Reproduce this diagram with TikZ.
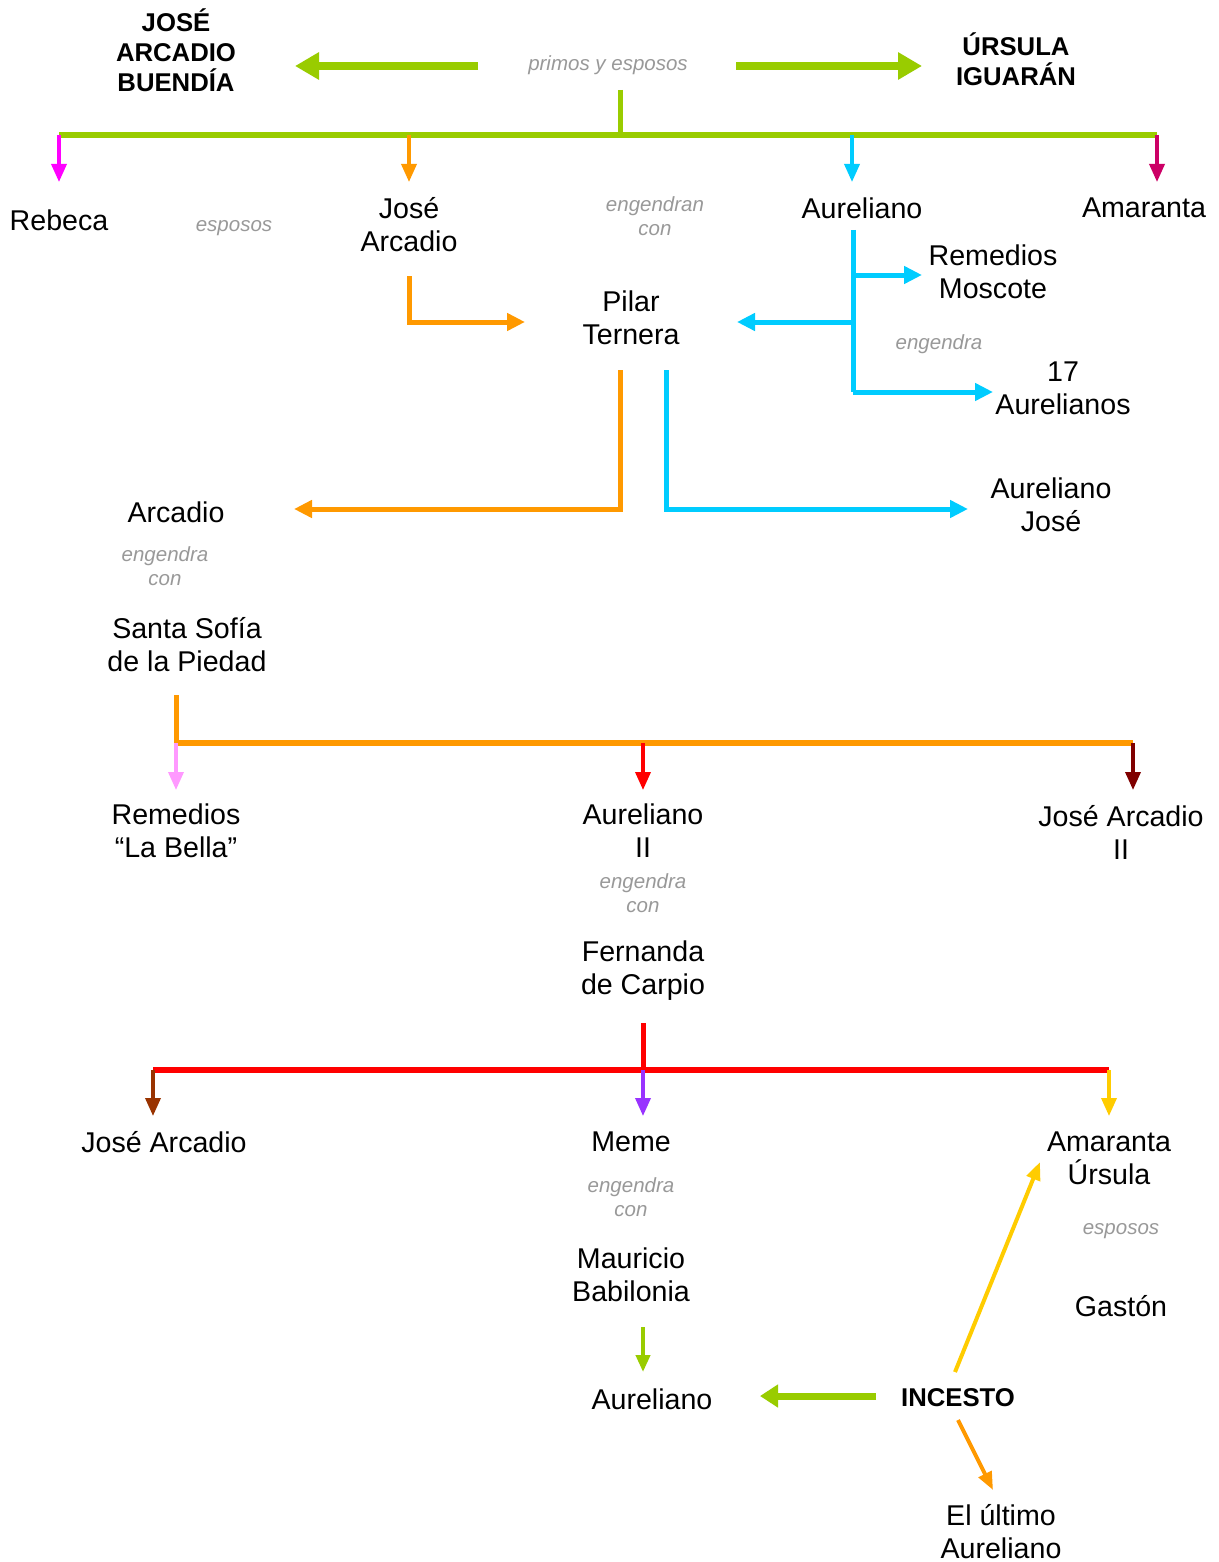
\documentclass[tikz,border=0pt]{standalone}
\usepackage{fontspec}
\setmainfont{Liberation Sans}
\usetikzlibrary{arrows.meta}
\definecolor{cgreen}{HTML}{99CC00}
\definecolor{corange}{HTML}{FF9900}
\definecolor{ccyan}{HTML}{00CCFF}
\definecolor{cmag}{HTML}{FF00FF}
\definecolor{camar}{HTML}{CC0066}
\definecolor{cpink}{HTML}{FF99FF}
\definecolor{cred}{HTML}{FF0000}
\definecolor{cdred}{HTML}{800000}
\definecolor{cbrown}{HTML}{993300}
\definecolor{cpurple}{HTML}{9933FF}
\definecolor{cyellow}{HTML}{FFCC00}
\definecolor{relgray}{HTML}{999999}
\begin{document}
\begin{tikzpicture}[x=1pt,y=-1pt,
  person/.style={align=center, font=\fontsize{28.6}{33}\selectfont, inner sep=0pt},
  rel/.style={align=center, font=\fontsize{20.5}{24}\selectfont\itshape, text=relgray, inner sep=0pt},
  titlebox/.style={align=center, font=\fontsize{25.7}{30}\selectfont\bfseries, inner sep=0pt},
  bus/.style={line width=6pt},
  stem/.style={line width=5pt},
  drop/.style={line width=3.5pt, -{Triangle[length=18pt,width=15pt]}},
  conn/.style={line width=5pt, -{Triangle[length=18pt,width=17pt]}},
  bigarrow/.style={line width=8pt, cgreen, -{Triangle[length=24pt,width=26pt]}},
  slim/.style={line width=4pt, -{Triangle[length=18pt,width=14pt]}}]
\useasboundingbox[fill=white] (0,0) rectangle (1218,1562);

% ---- titles
\node[titlebox] (jab) at (176,50) {JOSÉ\\ARCADIO\\BUENDÍA};
\node[titlebox] (ui) at (1016,59) {ÚRSULA\\IGUARÁN};
\node[rel] (primos) at (608,65) {primos y esposos};
\coordinate (pl) at (478,66);
\coordinate (pla) at (295,66);
\coordinate (pr) at (736,66);
\coordinate (pra) at (922,66);
\draw[bigarrow] (pl) -- (pla);
\draw[bigarrow] (pr) -- (pra);

% ---- first generation bus
\coordinate (g0) at (620,90);
\coordinate (g1) at (620,135);
\coordinate (gL) at (59,135);
\coordinate (gR) at (1157,135);
\draw[stem,cgreen] (g0) -- (g1);
\draw[bus,cgreen] (gL) -- (gR);
\coordinate (d1) at (409,135);
\coordinate (d2) at (852,135);
\draw[drop,cmag] (gL) -- (59,182);
\draw[drop,corange] (d1) -- (409,182);
\draw[drop,ccyan] (d2) -- (852,182);
\draw[drop,camar] (gR) -- (1157,182);

\node[person] (rebeca) at (59,220) {Rebeca};
\node[rel] (esp1) at (234,228) {esposos};
\node[person] (josearc) at (409,225) {José\\Arcadio};
\node[rel] (engcon1) at (655,216) {engendran\\con};
\node[person] (aureliano) at (862,208) {Aureliano};
\node[person] (amaranta) at (1144,208) {Amaranta};
\node[person] (remmos) at (993,272) {Remedios\\Moscote};
\node[person] (pilar) at (631,318) {Pilar\\Ternera};
\node[rel] (eng1) at (939,344) {engendra};
\node[person] (a17) at (1063,388) {17\\Aurelianos};

% José Arcadio -> Pilar
\coordinate (ja0) at (409,276);
\coordinate (ja1) at (409,322);
\coordinate (ja2) at (525,322);
\draw[conn,corange] (ja0) -- (ja1) -- (ja2);

% Aureliano branches
\coordinate (au0) at (853,230);
\coordinate (au1) at (853,275);
\coordinate (au2) at (853,322);
\coordinate (au3) at (853,392);
\draw[stem,ccyan] (au0) -- (au3);
\draw[conn,ccyan] (au1) -- (922,275);
\draw[conn,ccyan] (au2) -- (737,322);
\draw[conn,ccyan] (au3) -- (993,392);

% Pilar -> Arcadio / Aureliano José
\coordinate (po0) at (620,370);
\coordinate (po1) at (620,509);
\coordinate (po2) at (294,509);
\coordinate (pc0) at (666,370);
\coordinate (pc1) at (666,509);
\coordinate (pc2) at (968,509);
\draw[conn,corange] (po0) -- (po1) -- (po2);
\draw[conn,ccyan] (pc0) -- (pc1) -- (pc2);

\node[person] (arcadio) at (176,512) {Arcadio};
\node[rel] (engcon2) at (165,566) {engendra\\con};
\node[person] (santa) at (187,645) {Santa Sofía\\de la Piedad};
\node[person] (aurjose) at (1051,505) {Aureliano\\José};

% second bus
\coordinate (s0) at (176,695);
\coordinate (s1) at (176,743);
\coordinate (sM) at (643,743);
\coordinate (sR) at (1133,743);
\draw[stem,corange] (s0) -- (s1);
\draw[bus,corange] (s1) -- (sR);
\draw[drop,cpink] (s1) -- (176,790);
\draw[drop,cred] (sM) -- (643,790);
\draw[drop,cdred] (sR) -- (1133,790);

\node[person] (remlb) at (176,831) {Remedios\\“La Bella”};
\node[person] (aur2) at (643,831) {Aureliano\\II};
\node[person] (ja2n) at (1121,832) {José Arcadio\\II};
\node[rel] (engcon3) at (643,893) {engendra\\con};
\node[person] (fernanda) at (643,971) {Fernanda\\de Carpio};

% third bus
\coordinate (t0) at (643,1023);
\coordinate (t1) at (643,1070);
\coordinate (tL) at (153,1070);
\coordinate (tR) at (1109,1070);
\draw[bus,cred] (tL) -- (tR);
\draw[stem,cred] (t0) -- (t1);
\draw[drop,cbrown] (tL) -- (153,1116);
\draw[drop,cpurple] (t1) -- (643,1116);
\draw[drop,cyellow] (tR) -- (1109,1116);

\node[person] (jarc) at (164,1142) {José Arcadio};
\node[person] (meme) at (631,1142) {Meme};
\node[person] (amur) at (1109,1158) {Amaranta\\Úrsula};
\node[rel] (engcon4) at (631,1197) {engendra\\con};
\node[rel] (esp2) at (1121,1231) {esposos};
\node[person] (mauricio) at (631,1275) {Mauricio\\Babilonia};
\node[person] (gaston) at (1121,1306) {Gastón};
\node[person] (aurfin) at (652,1399) {Aureliano};
\node[titlebox] (incesto) at (958,1398) {INCESTO};
\node[person] (ultimo) at (1001,1532) {El último\\Aureliano};

\coordinate (m0) at (643,1327);
\coordinate (m1) at (643,1372);
\draw[line width=4pt, cgreen, -{Triangle[length=17pt,width=14pt]}] (m0) -- (m1);
\coordinate (i0) at (876,1396);
\coordinate (i1) at (760,1396);
\draw[line width=7pt, cgreen, -{Triangle[length=18pt,width=22pt]}] (i0) -- (i1);
\coordinate (y0) at (955,1372);
\coordinate (y1) at (1040,1162);
\draw[slim,cyellow] (y0) -- (y1);
\coordinate (o0) at (958,1420);
\coordinate (o1) at (993,1490);
\draw[slim,corange] (o0) -- (o1);
\end{tikzpicture}
\end{document}
